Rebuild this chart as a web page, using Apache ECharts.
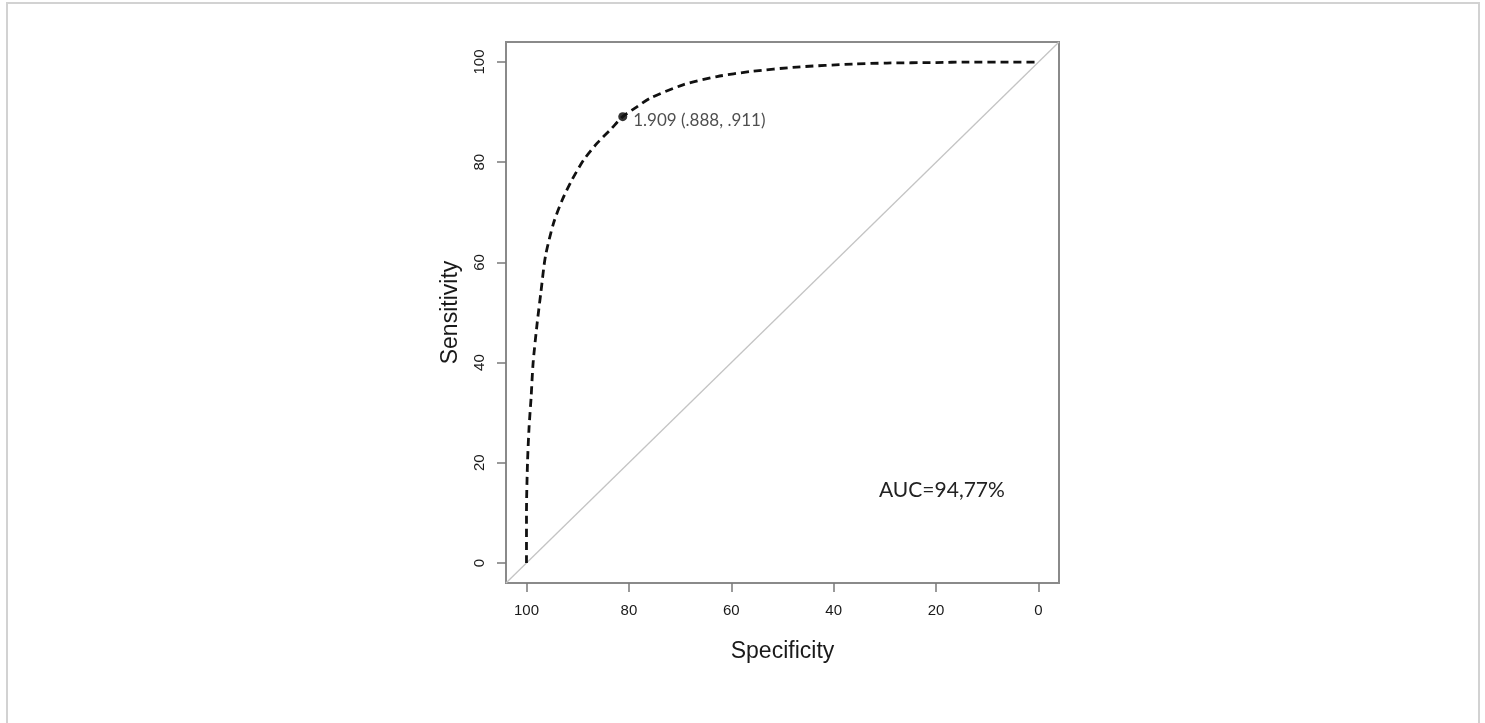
<!DOCTYPE html>
<html>
<head>
<meta charset="utf-8">
<script src="https://cdn.jsdelivr.net/npm/echarts@6/dist/echarts.min.js"></script>
<style>
html,body{margin:0;padding:0;background:#fff;}
#chart{width:1485px;height:723px;}
</style>
</head>
<body>
<div id="chart"></div>
<script>
// ROC curve (specificity %, sensitivity %)
const specificity = [100, 100, 99.8, 99.5, 99.1, 98.7, 97.9, 97.2, 96.3, 94.7, 93.0, 91.1, 88.8, 86.2, 83.6, 81.2, 78.5, 75.8, 69.3, 62.8, 56.3, 47.2, 36.2, 29.6, 20, 14, 5, 0];
const sensitivity = [0, 10, 20, 27, 33, 40, 48, 53.9, 61.2, 67.9, 72.5, 76.5, 80.5, 83.8, 86.5, 89.1, 91.0, 92.8, 95.5, 97.1, 98.1, 99.0, 99.6, 99.8, 99.9, 100, 100, 100];
// chance diagonal
const diagSpec = [104, -4];
const diagSens = [-4, 104];
// best threshold point
const bestSpec = [81.2];
const bestSens = [89.1];
const bestLabel = '1.909 (.888, .911)';
const aucText = 'AUC=94,77%';
const tickValues = [0, 20, 40, 60, 80, 100];

const chart = echarts.init(document.getElementById('chart'));
const axisFont = '"Liberation Sans", Arial, sans-serif';
const noteFont = 'Lato, "Open Sans", sans-serif';

chart.setOption({
  animation: false,
  backgroundColor: '#fff',
  grid: {
    left: 506, top: 42, width: 553, height: 541,
    show: true, borderColor: '#8a8a8a', borderWidth: 2,
    containLabel: false
  },
  xAxis: {
    type: 'value', inverse: true, min: -4, max: 104,
    splitLine: {show: false},
    axisLine: {show: false, onZero: false},
    axisTick: {show: true, inside: false, length: 9, customValues: tickValues,
      lineStyle: {color: '#7a7a7a', width: 1.5}},
    axisLabel: {customValues: tickValues, fontSize: 15, color: '#1a1a1a', fontFamily: axisFont, margin: 20},
    name: 'Specificity', nameLocation: 'middle', nameGap: 57,
    nameTextStyle: {fontSize: 23, color: '#1a1a1a', fontFamily: axisFont}
  },
  yAxis: {
    type: 'value', min: -4, max: 104,
    splitLine: {show: false},
    axisLine: {show: false, onZero: false},
    axisTick: {show: true, inside: false, length: 9, customValues: tickValues,
      lineStyle: {color: '#7a7a7a', width: 1.5}},
    axisLabel: {customValues: tickValues, fontSize: 15, color: '#1a1a1a', fontFamily: axisFont, margin: 19, rotate: 90},
    name: 'Sensitivity', nameLocation: 'middle', nameGap: 44, nameRotate: 90,
    nameTextStyle: {fontSize: 23, color: '#1a1a1a', fontFamily: axisFont}
  },
  series: [
    {
      type: 'line', silent: true, symbol: 'none',
      data: diagSpec.map((v, i) => [v, diagSens[i]]),
      lineStyle: {color: '#c4c4c4', width: 1.3},
      clip: true
    },
    {
      type: 'line', silent: true, symbol: 'none', smooth: 0.25,
      data: specificity.map((v, i) => [v, sensitivity[i]]),
      lineStyle: {color: '#111', width: 2.8, type: [8, 5]}
    },
    {
      type: 'scatter', silent: true, symbol: 'circle', symbolSize: 9,
      itemStyle: {color: '#000'},
      data: bestSpec.map((v, i) => [v, bestSens[i]]),
      label: {show: true, position: 'right', distance: 6, offset: [0, 4],
        formatter: bestLabel, fontSize: 17, color: '#222', fontFamily: noteFont}
    }
  ],
  graphic: [
    {type: 'rect', shape: {x: 7, y: 3, width: 1472, height: 780},
      style: {fill: 'none', stroke: '#d2d2d2', lineWidth: 2}, silent: true},
    {type: 'text', x: 879, y: 490,
      style: {text: aucText, fontSize: 21, fill: '#222', fontFamily: noteFont, verticalAlign: 'middle', textAlign: 'left'}}
  ]
});
</script>
</body>
</html>
